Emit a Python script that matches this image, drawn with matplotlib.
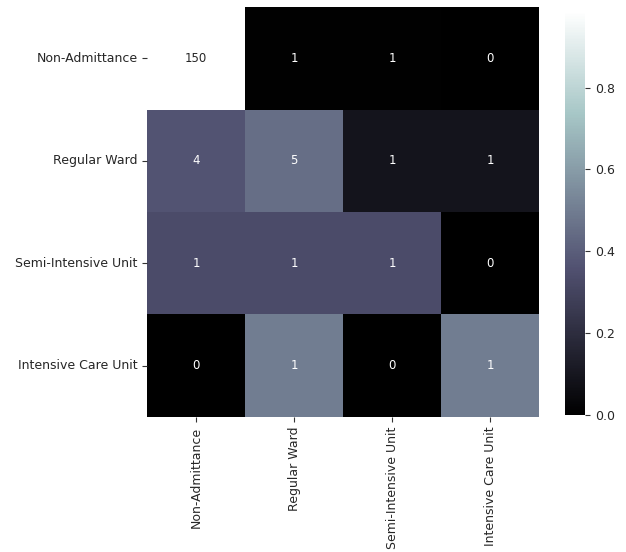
import numpy as np
import matplotlib
matplotlib.use("Agg")
import matplotlib.pyplot as plt
import seaborn as sns

labels = ["Non-Admittance", "Regular Ward", "Semi-Intensive Unit", "Intensive Care Unit"]
counts = np.array([
    [150, 1, 1, 0],
    [4, 5, 1, 1],
    [1, 1, 1, 0],
    [0, 1, 0, 1],
])

# colours follow row-normalised values, annotations show raw counts
norm = counts / counts.sum(axis=1, keepdims=True)

fig = plt.figure(figsize=(6.26, 5.52), dpi=100)
ax = fig.add_axes([0.235, 0.245, 0.626, 0.742])
cax = fig.add_axes([0.903, 0.248, 0.032, 0.732])

sns.heatmap(norm, annot=counts, fmt="d", cmap="bone", ax=ax, cbar_ax=cax,
            xticklabels=labels, yticklabels=labels,
            annot_kws={"fontsize": 8.5})
ax.tick_params(axis="both", length=3.5, width=0.8, color="#333333",
               labelcolor="#262626", labelsize=9)
ax.tick_params(axis="x", rotation=90)
ax.tick_params(axis="y", rotation=0)
cax.tick_params(length=3.5, width=0.8, color="#333333",
                labelcolor="#262626", labelsize=9)

fig.savefig("out.png", dpi=100)
